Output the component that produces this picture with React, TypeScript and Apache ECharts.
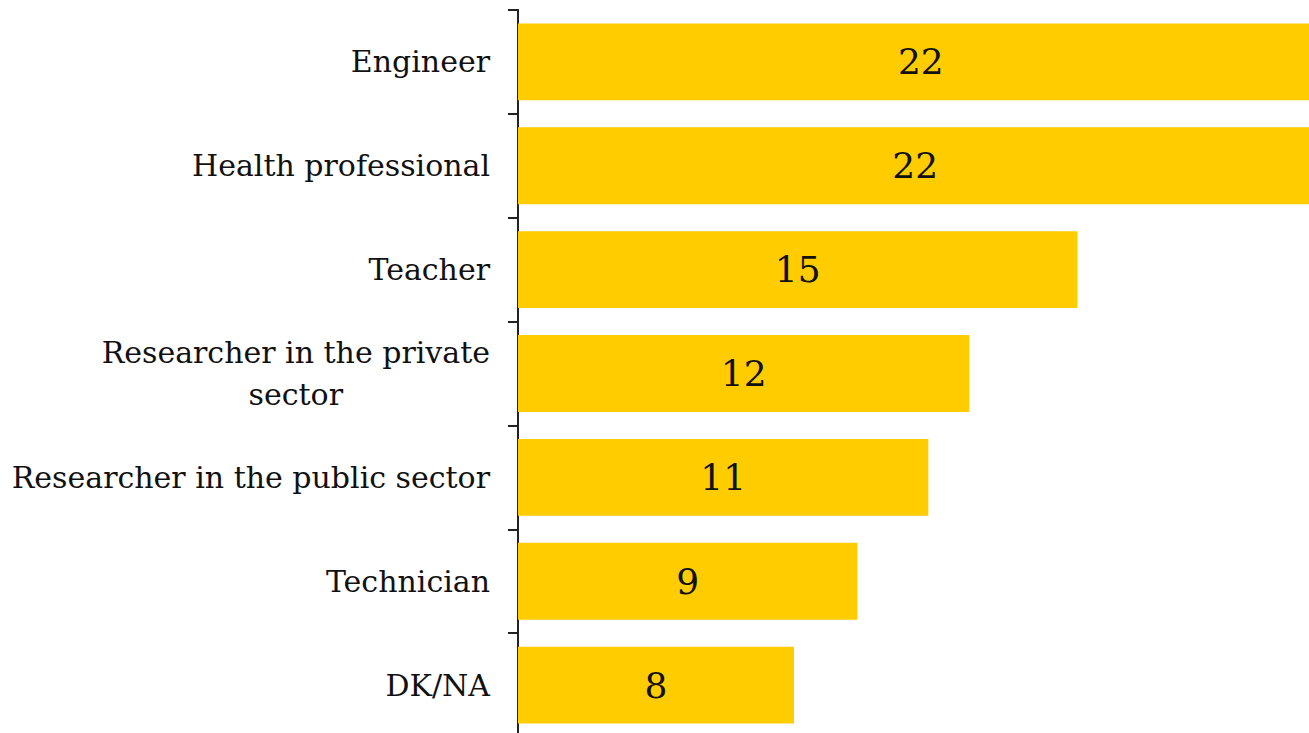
import React, { useEffect, useRef } from "react";
import * as echarts from "echarts";

const categories = [
  "Engineer",
  "Health professional",
  "Teacher",
  "Researcher in the private\nsector",
  "Researcher in the public sector",
  "Technician",
  "DK/NA",
];
const values = [21.6, 21.3, 15.0, 12.1, 11.0, 9.1, 7.4];
const valueLabels = ["22", "22", "15", "12", "11", "9", "8"];

const FONT = "'DejaVu Serif', 'Liberation Serif', serif";

export default function App() {
  const ref = useRef<HTMLDivElement>(null);
  useEffect(() => {
    if (!ref.current) return;
    const chart = echarts.init(ref.current, null, { renderer: "svg" });
    chart.setOption({
      animation: false,
      backgroundColor: "#ffffff",
      grid: {
        left: 518,
        top: 10,
        width: 932.5,
        height: 727,
        containLabel: false,
        outerBoundsMode: "none",
      },
      xAxis: { type: "value", min: 0, max: 25, show: false },
      yAxis: {
        type: "category",
        inverse: true,
        data: categories,
        axisLine: { show: true, lineStyle: { color: "#222222", width: 2 } },
        axisTick: { show: true, length: 10, lineStyle: { color: "#222222", width: 2 } },
        splitLine: { show: false },
        axisLabel: {
          margin: 28,
          color: "#111111",
          fontFamily: FONT,
          fontSize: 30,
          lineHeight: 42,
          formatter: (v: string) => v.split("\n").map((l) => `{a|${l}}`).join("\n"),
          rich: {
            a: { align: "center", fontFamily: FONT, fontSize: 30, lineHeight: 42, color: "#111111" },
          },
        },
      },
      series: [
        {
          type: "bar",
          data: values,
          barCategoryGap: "26%",
          itemStyle: { color: "#FFCC00" },
          label: {
            show: true,
            position: "inside",
            color: "#111111",
            fontFamily: FONT,
            fontSize: 36,
            formatter: (p: any) => valueLabels[p.dataIndex],
          },
        },
      ],
    });
    return () => chart.dispose();
  }, []);
  return (
    <div
      ref={ref}
      style={{ position: "fixed", left: 0, top: 0, width: 1309, height: 733, background: "#fff" }}
    />
  );
}
